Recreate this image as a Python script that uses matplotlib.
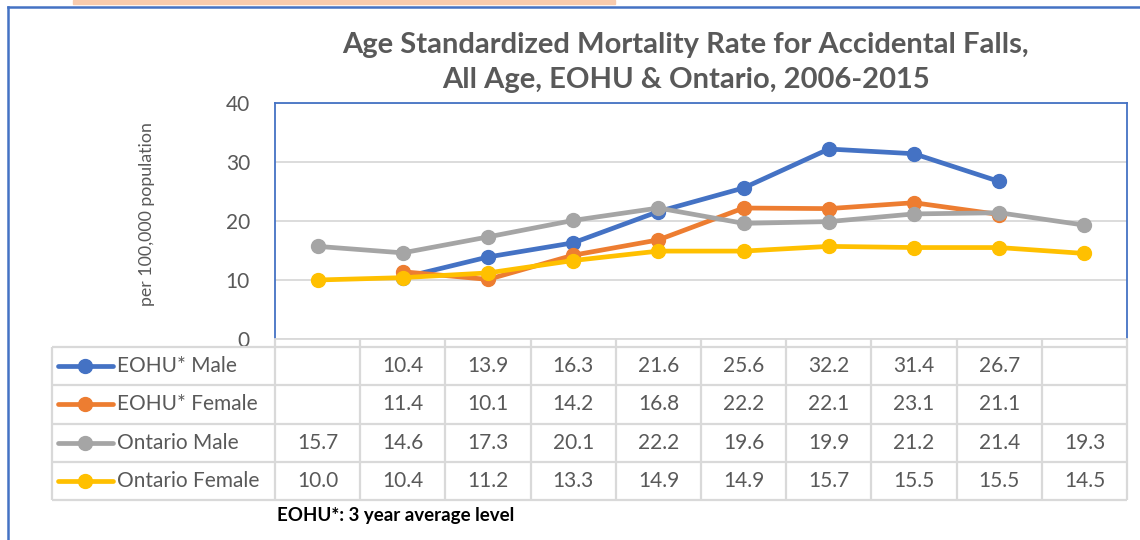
import numpy as np
import matplotlib
matplotlib.use("Agg")
import matplotlib.pyplot as plt
from matplotlib.lines import Line2D
from matplotlib.patches import Rectangle

plt.rcParams['font.family'] = ['Lato', 'DejaVu Sans']

years = list(range(2006, 2016))
series_names = ["EOHU* Male", "EOHU* Female", "Ontario Male", "Ontario Female"]
eohu_male = [None, 10.4, 13.9, 16.3, 21.6, 25.6, 32.2, 31.4, 26.7, None]
eohu_female = [None, 11.4, 10.1, 14.2, 16.8, 22.2, 22.1, 23.1, 21.1, None]
ontario_male = [15.7, 14.6, 17.3, 20.1, 22.2, 19.6, 19.9, 21.2, 21.4, 19.3]
ontario_female = [10.0, 10.4, 11.2, 13.3, 14.9, 14.9, 15.7, 15.5, 15.5, 14.5]
colors = ["#4472C4", "#ED7D31", "#A5A5A5", "#FFC000"]

all_series = [eohu_male, eohu_female, ontario_male, ontario_female]

W, H = 1140, 540
fig = plt.figure(figsize=(W / 100, H / 100), dpi=100)


def box(l, t, r, b):
    return [l / W, 1 - b / H, (r - l) / W, (b - t) / H]


text_col = "#595959"
grid_col = "#D9D9D9"
fs = 15

# main plot area
ax = fig.add_axes(box(275, 103, 1127, 339))
x = np.arange(len(years))
for vals, c in zip(all_series, colors):
    y = np.array([np.nan if v is None else v for v in vals])
    ax.plot(x, y, color=c, lw=3.4, marker='o', ms=10, solid_capstyle='round')
ax.set_xlim(-0.5, len(years) - 0.5)
ax.set_ylim(0, 40)
ax.set_yticks([0, 10, 20, 30, 40])
ax.set_xticks([])
ax.yaxis.grid(True, color=grid_col, lw=1.3)
ax.set_axisbelow(True)
ax.tick_params(axis='y', length=0, labelsize=fs, labelcolor=text_col, pad=18)
for s in ['left', 'top', 'right']:
    ax.spines[s].set_color("#4472C4")
    ax.spines[s].set_linewidth(1.3)
ax.spines['bottom'].set_color(grid_col)
ax.spines['bottom'].set_linewidth(1.3)
ax.set_ylabel("per 100,000 population", fontsize=12.8, color=text_col)
ax.yaxis.set_label_coords((155 - 275) / 852, 0.53)

# data table
tax = fig.add_axes(box(275, 339, 1127, 500))
tax.set_xlim(-0.5, len(years) - 0.5)
hdr = -0.21
tax.set_ylim(len(series_names), hdr)
tax.axis('off')
left_edge = -0.5 - (275 - 52) / 85.2
lc = dict(color=grid_col, lw=1.6, clip_on=False, solid_capstyle='butt')
# horizontal lines
for r in range(len(series_names) + 1):
    tax.plot([left_edge, len(years) - 0.5], [r, r], **lc)
# vertical lines
tax.plot([left_edge, left_edge], [0, len(series_names)], **lc)
for i in range(len(years) + 1):
    tax.plot([i - 0.5, i - 0.5], [hdr, len(series_names)], **lc)

key_l = (58 - 275) / 85.2 - 0.5
key_r = (113 - 275) / 85.2 - 0.5
key_m = (85 - 275) / 85.2 - 0.5
txt_x = (117 - 275) / 85.2 - 0.5
for r, (name, vals, c) in enumerate(zip(series_names, all_series, colors)):
    yc = r + 0.5
    tax.plot([key_l, key_r], [yc, yc], color=c, lw=3.4, clip_on=False,
             solid_capstyle='round')
    tax.plot([key_m], [yc], marker='o', ms=10, color=c, clip_on=False)
    tax.text(txt_x, yc, name, ha='left', va='center', fontsize=fs,
             color=text_col, clip_on=False)
    for i, v in enumerate(vals):
        if v is not None:
            tax.text(i, yc, f"{v:.1f}", ha='center', va='center',
                     fontsize=fs, color=text_col)

# title
fig.text(685 / W, 1 - 45 / H, "Age Standardized Mortality Rate for Accidental Falls,",
         ha='center', va='center', fontsize=21, fontweight='bold', color=text_col)
fig.text(686 / W, 1 - 80 / H, "All Age, EOHU & Ontario, 2006-2015",
         ha='center', va='center', fontsize=21, fontweight='bold', color=text_col)

# footnote
fig.text(277 / W, 1 - 515 / H, "EOHU*: 3 year average level", ha='left',
         va='center', fontsize=13.5, fontweight='bold', color='black')

# outer chart frame and orange band at the top
fig.add_artist(Line2D([8 / W, 8 / W], [1 - 7 / H, 0], color="#4472C4", lw=1.8))
fig.add_artist(Line2D([8 / W, 1], [1 - 7 / H, 1 - 7 / H], color="#4472C4", lw=1.8))
fig.add_artist(Rectangle((73 / W, 1 - 4 / H), (615 - 73) / W, 4 / H,
                         color="#F8CBAD", transform=fig.transFigure))

fig.savefig("out.png", dpi=100)
